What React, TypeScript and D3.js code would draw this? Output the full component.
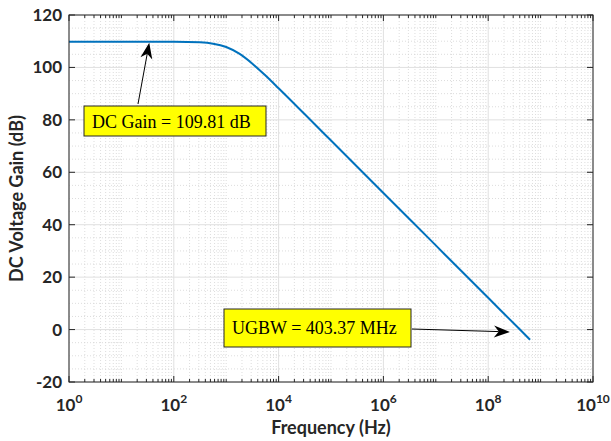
import * as d3 from "d3";

// frequency response
const freqHz = [1, 10, 100, 316, 562, 1000, 1778, 3162, 5623, 1e4, 31623, 1e5, 1e6, 1e7, 1e8, 4.0337e8, 6.3e8];
const gainDb = [109.81, 109.81, 109.78, 109.56, 109.07, 107.8, 105.25, 101.43, 96.89, 92.04, 82.11, 72.11, 52.11, 32.11, 12.11, 0, -3.9];

const xTickExp = [0, 2, 4, 6, 8, 10];
const yTicks = [-20, 0, 20, 40, 60, 80, 100, 120];

const dcLabel = "DC Gain = 109.81 dB";
const ugbwLabel = "UGBW = 403.37 MHz";

const W = 611;
const H = 441;
const margin = { top: 15, right: 18, bottom: 59, left: 69 };

const sans = "Lato, 'Liberation Sans', Arial, sans-serif";
const serif = "'Liberation Serif', 'Times New Roman', serif";

function Arrow({ x1, y1, x2, y2 }: { x1: number; y1: number; x2: number; y2: number }) {
  const dx = x2 - x1;
  const dy = y2 - y1;
  const len = Math.sqrt(dx * dx + dy * dy);
  const ux = dx / len;
  const uy = dy / len;
  const px = -uy;
  const py = ux;
  const L = 16;
  const hw = 6;
  const bx = x2 - ux * L;
  const by = y2 - uy * L;
  const nx = x2 - ux * L * 0.7;
  const ny = y2 - uy * L * 0.7;
  const head = `M${x2},${y2}L${bx + px * hw},${by + py * hw}L${nx},${ny}L${bx - px * hw},${by - py * hw}Z`;
  return (
    <g>
      <line x1={x1} y1={y1} x2={nx} y2={ny} stroke="#000" strokeWidth={1} />
      <path d={head} fill="#000" />
    </g>
  );
}

export default function App() {
  const iw = W - margin.left - margin.right;
  const ih = H - margin.top - margin.bottom;

  const x = d3.scaleLog().domain([1, 1e10]).range([margin.left, margin.left + iw]);
  const y = d3.scaleLinear().domain([-20, 120]).range([margin.top + ih, margin.top]);

  const minorX: number[] = [];
  for (let d = 0; d < 10; d++) {
    for (let k = 1; k <= 9; k++) {
      const v = k * Math.pow(10, d);
      if (k === 1 && d % 2 === 0) continue;
      minorX.push(v);
    }
  }
  const minorY = d3.range(-15, 120, 5).filter((v) => v % 20 !== 0);

  const line = d3
    .line<number>()
    .x((_, i) => x(freqHz[i]))
    .y((d) => y(d))
    .curve(d3.curveMonotoneX);

  const x0 = margin.left;
  const x1 = margin.left + iw;
  const y0 = margin.top + ih;
  const y1 = margin.top;

  // annotation anchors
  const dcTip = { x: x(34), y: y(109.81) };
  const ugTip = { x: x(2.6e8), y: y(-0.9) };

  return (
    <svg width={W} height={H} style={{ position: "absolute", left: 0, top: 0, background: "#fff" }}>
      {/* minor grid */}
      {minorX.map((v) => (
        <line key={"mx" + v} x1={x(v)} x2={x(v)} y1={y0} y2={y1} stroke="#d4d4d4" strokeWidth={0.8} strokeDasharray="1,2" />
      ))}
      {minorY.map((v) => (
        <line key={"my" + v} x1={x0} x2={x1} y1={y(v)} y2={y(v)} stroke="#d4d4d4" strokeWidth={0.8} strokeDasharray="1,2" />
      ))}
      {/* major grid */}
      {xTickExp.map((e) => (
        <line key={"gx" + e} x1={x(Math.pow(10, e))} x2={x(Math.pow(10, e))} y1={y0} y2={y1} stroke="#e0e0e0" strokeWidth={1} />
      ))}
      {yTicks.map((v) => (
        <line key={"gy" + v} x1={x0} x2={x1} y1={y(v)} y2={y(v)} stroke="#e0e0e0" strokeWidth={1} />
      ))}

      {/* curve */}
      <path d={line(gainDb) || ""} fill="none" stroke="#0072BD" strokeWidth={2} />

      {/* box + ticks */}
      <rect x={x0} y={y1} width={iw} height={ih} fill="none" stroke="#262626" strokeWidth={1} />
      {minorX.map((v) => (
        <g key={"tx" + v}>
          <line x1={x(v)} x2={x(v)} y1={y0} y2={y0 - 3} stroke="#262626" />
          <line x1={x(v)} x2={x(v)} y1={y1} y2={y1 + 3} stroke="#262626" />
        </g>
      ))}
      {xTickExp.map((e) => (
        <g key={"Tx" + e}>
          <line x1={x(Math.pow(10, e))} x2={x(Math.pow(10, e))} y1={y0} y2={y0 - 6} stroke="#262626" />
          <line x1={x(Math.pow(10, e))} x2={x(Math.pow(10, e))} y1={y1} y2={y1 + 6} stroke="#262626" />
          <text x={x(Math.pow(10, e))} y={411} textAnchor="middle" fontFamily={sans} fontWeight="bold" fontSize={17} fill="#262626">
            10<tspan dy={-8} fontSize={12}>{e}</tspan>
          </text>
        </g>
      ))}
      {yTicks.map((v) => (
        <g key={"Ty" + v}>
          <line x1={x0} x2={x0 + 6} y1={y(v)} y2={y(v)} stroke="#262626" />
          <line x1={x1} x2={x1 - 6} y1={y(v)} y2={y(v)} stroke="#262626" />
          <text x={62} y={y(v) + 6} textAnchor="end" fontFamily={sans} fontWeight="bold" fontSize={17} fill="#262626">
            {v}
          </text>
        </g>
      ))}

      {/* axis titles */}
      <text x={(x0 + x1) / 2} y={434} textAnchor="middle" fontFamily={sans} fontWeight="bold" fontSize={18} fill="#262626">
        Frequency (Hz)
      </text>
      <text
        transform={`translate(23,${(y0 + y1) / 2}) rotate(-90)`}
        textAnchor="middle"
        fontFamily={sans}
        fontWeight="bold"
        fontSize={18}
        fill="#262626"
      >
        DC Voltage Gain (dB)
      </text>

      {/* annotations */}
      <Arrow x1={138} y1={104} x2={dcTip.x} y2={dcTip.y + 1} />
      <rect x={84} y={106} width={182} height={30} fill="#ffff00" stroke="#262626" strokeWidth={1} />
      <text x={92} y={128} fontFamily={serif} fontSize={18} fill="#000">
        {dcLabel}
      </text>

      <Arrow x1={412} y1={329} x2={ugTip.x} y2={ugTip.y} />
      <rect x={224} y={309} width={187} height={38} fill="#ffff00" stroke="#262626" strokeWidth={1} />
      <text x={232} y={334} fontFamily={serif} fontSize={18} fill="#000">
        {ugbwLabel}
      </text>
    </svg>
  );
}
